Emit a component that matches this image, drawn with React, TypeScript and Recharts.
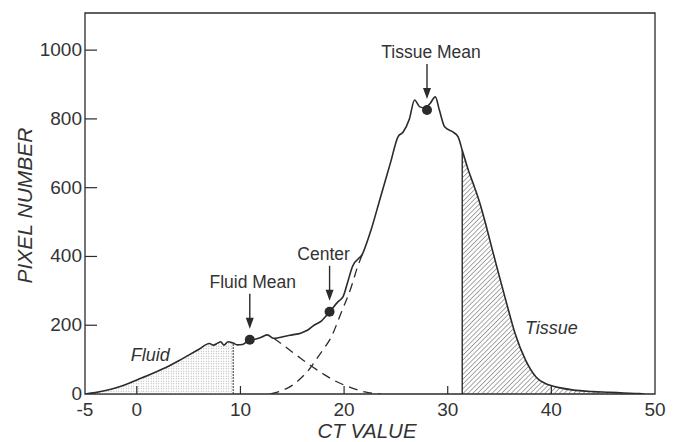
import React from 'react';
import {
  ComposedChart,
  Line,
  Area,
  XAxis,
  YAxis,
  ReferenceLine,
  ReferenceDot,
  ReferenceArea,
  Label
} from 'recharts';

// histogram of CT values
const ctValues = [
  -5, -4, -3, -2, -1, 0, 1, 2, 3, 4, 5, 6, 7,
  7.4, 7.8, 8.1, 8.4, 8.8, 9.3, 9.7, 10.2, 10.9, 11.5, 12.0, 12.6, 13.2,
  14, 15, 15.8, 16.5, 17.1, 17.8, 18.6, 19.4, 19.9, 20.4, 20.8, 21.8, 22.6, 23.5, 24.5,
  25.2, 25.7, 26.3, 26.8, 27.3, 27.8, 28.3, 28.8, 29.2, 29.7, 30.5, 31.0, 31.4,
  32.0, 32.6, 33.1, 33.7, 34.3, 35.0, 35.6, 36.5, 37.5, 38.5, 39.8, 41.0, 42.0,
  44.0, 45.6, 47.0, 48.5, 49.0
];
const pixelCounts = [
  0, 4, 10, 18, 28, 41, 53, 66, 80, 96, 113, 130, 147,
  142, 148, 152, 142, 152, 148, 143, 144, 158, 160, 165, 172, 162,
  166, 172, 177, 186, 200, 212, 239, 268, 283, 331, 370, 409, 477, 571, 675,
  748, 762, 800, 855, 835, 832, 845, 864, 825, 777, 762, 748, 709,
  650, 600, 555, 490, 420, 340, 273, 176, 99, 50, 26, 17, 12,
  7, 5, 3, 1, 0
];

// dashed component curves
const fluidTailCt = [13.2, 14, 15, 15.8, 16.8, 18, 19, 20, 21, 22, 22.8, 23.5];
const fluidTailCount = [162, 145, 122, 104, 82, 58, 40, 26, 15, 6, 2, 0];
const tissueRiseCt = [12.9, 14, 15, 15.8, 16.8, 17.3, 18, 18.7, 19.7, 20.7, 21.3, 21.8];
const tissueRiseCount = [0, 10, 25, 45, 78, 100, 130, 162, 235, 312, 370, 409];

const fluidCutoff = 9.3;
const tissueCutoff = 31.4;

const xTicks = [-5, 0, 10, 20, 30, 40, 50];
const yTicks = [0, 200, 400, 600, 800, 1000];
const yMax = 1108;

const markerNames = ['Fluid Mean', 'Center', 'Tissue Mean'];
const markerCt = [10.9, 18.6, 28.0];
const markerCount = [158, 239, 826];

const regionNames = ['Fluid', 'Tissue'];
const regionCt = [1.3, 40.0];
const regionCount = [113, 192];

const INK = '#2b2b2b';
const FONT = '"Liberation Sans", Arial, sans-serif';

// merge everything into one table keyed on ct
const rowMap = new Map<number, any>();
const put = (xs: number[], ys: number[], key: string) => {
  xs.forEach((x, i) => {
    const row = rowMap.get(x) ?? { ct: x };
    row[key] = ys[i];
    rowMap.set(x, row);
  });
};
put(ctValues, pixelCounts, 'count');
put(fluidTailCt, fluidTailCount, 'fluidTail');
put(tissueRiseCt, tissueRiseCount, 'tissueRise');
ctValues.forEach((c, i) => {
  if (c <= fluidCutoff) put([c], [pixelCounts[i]], 'fluidArea');
  if (c >= tissueCutoff) put([c], [pixelCounts[i]], 'tissueArea');
});
const chartData = Array.from(rowMap.values()).sort((a, b) => a.ct - b.ct);

const cutoffCount = (c: number) => pixelCounts[ctValues.indexOf(c)];

const XTick = ({ x, y, payload }: any) => {
  const v = payload.value;
  return (
    <g>
      {v > -5 && v < 50 && <line x1={x} x2={x} y1={y} y2={y - 8} stroke={INK} strokeWidth={1.2} />}
      <text x={x} y={y + 22} textAnchor="middle" fontSize={19} fill="#333" fontFamily={FONT}>
        {v}
      </text>
    </g>
  );
};

const YTick = ({ x, y, payload }: any) => {
  const v = payload.value;
  return (
    <g>
      {v > 0 && <line x1={x} x2={x + 12} y1={y} y2={y} stroke={INK} strokeWidth={1.2} />}
      <text x={x - 3} y={y + 6} textAnchor="end" fontSize={19} fill="#333" fontFamily={FONT}>
        {v}
      </text>
    </g>
  );
};

const textShift: Record<string, number> = { 'Fluid Mean': 3, Center: -6, 'Tissue Mean': 4 };

const MarkerShape = ({ cx, cy, name }: any) => (
  <g>
    <circle cx={cx} cy={cy} r={5} fill={INK} />
    <line x1={cx} x2={cx} y1={cy - 46} y2={cy - 20} stroke={INK} strokeWidth={1.4} />
    <path d={`M${cx - 4},${cy - 22} L${cx + 4},${cy - 22} L${cx},${cy - 11} Z`} fill={INK} />
    <text x={cx + (textShift[name] ?? 0)} y={cy - 52} textAnchor="middle" fontSize={17.5} fill="#333" fontFamily={FONT}>
      {name}
    </text>
  </g>
);

const RegionText = ({ cx, cy, name }: any) => (
  <text x={cx} y={cy + 6} textAnchor="middle" fontSize={18} fontStyle="italic" fill="#333" fontFamily={FONT}>
    {name}
  </text>
);

const App = () => {
  return (
    <div style={{ position: 'absolute', left: 0, top: 0, background: '#fff' }}>
      <ComposedChart
        width={678}
        height={442}
        data={chartData}
        margin={{ top: 13, right: 23, bottom: 0, left: 0 }}
      >
        <defs>
          <pattern id="stipple" width={2.5} height={2.5} patternUnits="userSpaceOnUse">
            <circle cx={1.25} cy={1.25} r={0.55} fill="#a3a3a3" />
          </pattern>
          <pattern id="hatch" width={3.4} height={3.4} patternUnits="userSpaceOnUse" patternTransform="rotate(45)">
            <line x1={0} y1={0} x2={0} y2={3.4} stroke="#3a3a3a" strokeWidth={0.9} />
          </pattern>
        </defs>
        <XAxis
          dataKey="ct"
          type="number"
          domain={[-5, 50]}
          ticks={xTicks}
          axisLine={false}
          tickLine={false}
          tickSize={0}
          tickMargin={0}
          tick={<XTick />}
          height={48}
          allowDataOverflow
        >
          <Label
            content={({ viewBox }: any) => (
              <text
                x={viewBox.x + viewBox.width / 2 - 3}
                y={viewBox.y + 44}
                textAnchor="middle"
                fontSize={20.5}
                fontStyle="italic"
                fill="#333"
                fontFamily={FONT}
              >
                CT VALUE
              </text>
            )}
          />
        </XAxis>
        <YAxis
          type="number"
          domain={[0, yMax]}
          ticks={yTicks}
          axisLine={false}
          tickLine={false}
          tickSize={0}
          tickMargin={0}
          tick={<YTick />}
          width={85}
          allowDataOverflow
        >
          <Label
            content={({ viewBox }: any) => {
              const cx = 32;
              const cy = viewBox.y + viewBox.height / 2 + 2;
              return (
                <text
                  x={cx}
                  y={cy}
                  transform={`rotate(-90, ${cx}, ${cy})`}
                  textAnchor="middle"
                  fontSize={21}
                  fontStyle="italic"
                  fill="#333"
                  fontFamily={FONT}
                >
                  PIXEL NUMBER
                </text>
              );
            }}
          />
        </YAxis>

        <ReferenceArea x1={-5} x2={50} y1={0} y2={yMax} fill="none" fillOpacity={0} stroke={INK} strokeWidth={1.3} />

        <Area
          dataKey="fluidArea"
          type="monotone"
          stroke="none"
          fill="url(#stipple)"
          fillOpacity={1}
          connectNulls
          isAnimationActive={false}
        />
        <Area
          dataKey="tissueArea"
          type="monotone"
          stroke="none"
          fill="url(#hatch)"
          fillOpacity={1}
          connectNulls
          isAnimationActive={false}
        />

        <ReferenceLine
          segment={[{ x: fluidCutoff, y: 0 }, { x: fluidCutoff, y: cutoffCount(fluidCutoff) }]}
          stroke="#444"
          strokeWidth={1.1}
          strokeDasharray="2 1"
        />
        <ReferenceLine
          segment={[{ x: tissueCutoff, y: 0 }, { x: tissueCutoff, y: cutoffCount(tissueCutoff) }]}
          stroke={INK}
          strokeWidth={1.4}
        />

        <Line
          dataKey="fluidTail"
          type="monotone"
          stroke={INK}
          strokeWidth={1.3}
          strokeDasharray="9 6"
          dot={false}
          connectNulls
          isAnimationActive={false}
        />
        <Line
          dataKey="tissueRise"
          type="monotone"
          stroke={INK}
          strokeWidth={1.3}
          strokeDasharray="9 6"
          dot={false}
          connectNulls
          isAnimationActive={false}
        />
        <Line
          dataKey="count"
          type="monotone"
          stroke={INK}
          strokeWidth={1.6}
          dot={false}
          connectNulls
          isAnimationActive={false}
        />

        {markerNames.map((name, i) => (
          <ReferenceDot
            key={name}
            x={markerCt[i]}
            y={markerCount[i]}
            r={5}
            shape={(p: any) => <MarkerShape {...p} name={name} />}
          />
        ))}
        {regionNames.map((name, i) => (
          <ReferenceDot
            key={name}
            x={regionCt[i]}
            y={regionCount[i]}
            r={1}
            shape={(p: any) => <RegionText {...p} name={name} />}
          />
        ))}
      </ComposedChart>
    </div>
  );
};

export default App;
